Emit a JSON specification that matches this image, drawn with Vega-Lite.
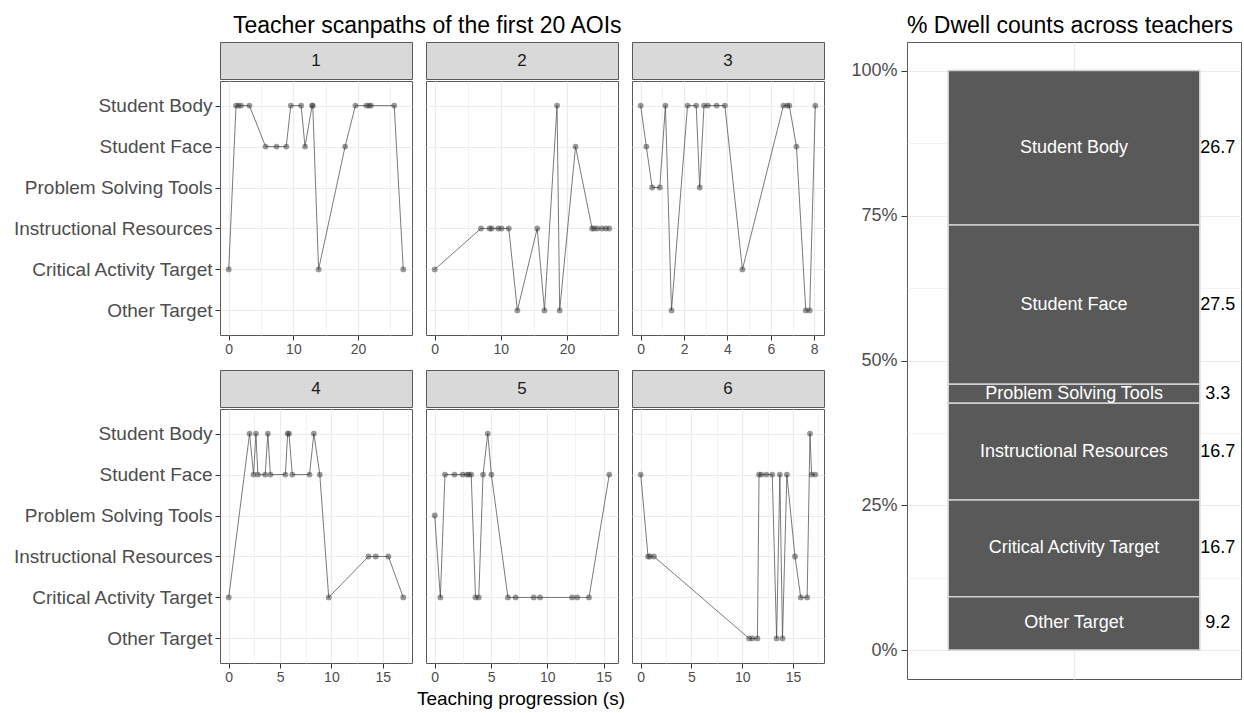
{
  "$schema": "https://vega.github.io/schema/vega-lite/v6.json",
  "padding": {"left": 12, "top": 14, "right": 0, "bottom": 0},
  "background": "white",
  "config": {
    "font": "Liberation Sans",
    "view": {"stroke": "#595959", "strokeWidth": 1},
    "title": {"fontSize": 23, "fontWeight": "normal", "color": "#000000", "font": "Liberation Sans"},
    "axis": {"labelLimit": 400}
  },
  "datasets": {
    "scan": [
      {"teacher": 1, "t": 0, "aoi": "Critical Activity Target"},
      {"teacher": 1, "t": 1.13, "aoi": "Student Body"},
      {"teacher": 1, "t": 1.5, "aoi": "Student Body"},
      {"teacher": 1, "t": 1.9, "aoi": "Student Body"},
      {"teacher": 1, "t": 3.2, "aoi": "Student Body"},
      {"teacher": 1, "t": 5.7, "aoi": "Student Face"},
      {"teacher": 1, "t": 7.4, "aoi": "Student Face"},
      {"teacher": 1, "t": 8.9, "aoi": "Student Face"},
      {"teacher": 1, "t": 9.6, "aoi": "Student Body"},
      {"teacher": 1, "t": 11.2, "aoi": "Student Body"},
      {"teacher": 1, "t": 11.8, "aoi": "Student Face"},
      {"teacher": 1, "t": 12.9, "aoi": "Student Body"},
      {"teacher": 1, "t": 13.0, "aoi": "Student Body"},
      {"teacher": 1, "t": 13.9, "aoi": "Critical Activity Target"},
      {"teacher": 1, "t": 18.0, "aoi": "Student Face"},
      {"teacher": 1, "t": 19.6, "aoi": "Student Body"},
      {"teacher": 1, "t": 21.3, "aoi": "Student Body"},
      {"teacher": 1, "t": 21.7, "aoi": "Student Body"},
      {"teacher": 1, "t": 22.0, "aoi": "Student Body"},
      {"teacher": 1, "t": 25.6, "aoi": "Student Body"},
      {"teacher": 1, "t": 27.0, "aoi": "Critical Activity Target"},
      {"teacher": 2, "t": 0, "aoi": "Critical Activity Target"},
      {"teacher": 2, "t": 7.0, "aoi": "Instructional Resources"},
      {"teacher": 2, "t": 8.3, "aoi": "Instructional Resources"},
      {"teacher": 2, "t": 8.6, "aoi": "Instructional Resources"},
      {"teacher": 2, "t": 9.6, "aoi": "Instructional Resources"},
      {"teacher": 2, "t": 10.1, "aoi": "Instructional Resources"},
      {"teacher": 2, "t": 11.2, "aoi": "Instructional Resources"},
      {"teacher": 2, "t": 12.5, "aoi": "Other Target"},
      {"teacher": 2, "t": 15.5, "aoi": "Instructional Resources"},
      {"teacher": 2, "t": 16.6, "aoi": "Other Target"},
      {"teacher": 2, "t": 18.5, "aoi": "Student Body"},
      {"teacher": 2, "t": 18.9, "aoi": "Other Target"},
      {"teacher": 2, "t": 21.3, "aoi": "Student Face"},
      {"teacher": 2, "t": 23.8, "aoi": "Instructional Resources"},
      {"teacher": 2, "t": 24.1, "aoi": "Instructional Resources"},
      {"teacher": 2, "t": 24.6, "aoi": "Instructional Resources"},
      {"teacher": 2, "t": 25.3, "aoi": "Instructional Resources"},
      {"teacher": 2, "t": 25.9, "aoi": "Instructional Resources"},
      {"teacher": 2, "t": 26.4, "aoi": "Instructional Resources"},
      {"teacher": 3, "t": 0, "aoi": "Student Body"},
      {"teacher": 3, "t": 0.26, "aoi": "Student Face"},
      {"teacher": 3, "t": 0.53, "aoi": "Problem Solving Tools"},
      {"teacher": 3, "t": 0.88, "aoi": "Problem Solving Tools"},
      {"teacher": 3, "t": 1.14, "aoi": "Student Body"},
      {"teacher": 3, "t": 1.42, "aoi": "Other Target"},
      {"teacher": 3, "t": 2.16, "aoi": "Student Body"},
      {"teacher": 3, "t": 2.56, "aoi": "Student Body"},
      {"teacher": 3, "t": 2.72, "aoi": "Problem Solving Tools"},
      {"teacher": 3, "t": 2.92, "aoi": "Student Body"},
      {"teacher": 3, "t": 3.1, "aoi": "Student Body"},
      {"teacher": 3, "t": 3.5, "aoi": "Student Body"},
      {"teacher": 3, "t": 3.88, "aoi": "Student Body"},
      {"teacher": 3, "t": 4.69, "aoi": "Critical Activity Target"},
      {"teacher": 3, "t": 6.58, "aoi": "Student Body"},
      {"teacher": 3, "t": 6.76, "aoi": "Student Body"},
      {"teacher": 3, "t": 6.85, "aoi": "Student Body"},
      {"teacher": 3, "t": 7.18, "aoi": "Student Face"},
      {"teacher": 3, "t": 7.61, "aoi": "Other Target"},
      {"teacher": 3, "t": 7.79, "aoi": "Other Target"},
      {"teacher": 3, "t": 8.05, "aoi": "Student Body"},
      {"teacher": 4, "t": 0, "aoi": "Critical Activity Target"},
      {"teacher": 4, "t": 2.03, "aoi": "Student Body"},
      {"teacher": 4, "t": 2.42, "aoi": "Student Face"},
      {"teacher": 4, "t": 2.65, "aoi": "Student Body"},
      {"teacher": 4, "t": 2.84, "aoi": "Student Face"},
      {"teacher": 4, "t": 3.55, "aoi": "Student Face"},
      {"teacher": 4, "t": 3.81, "aoi": "Student Body"},
      {"teacher": 4, "t": 4.06, "aoi": "Student Face"},
      {"teacher": 4, "t": 5.52, "aoi": "Student Face"},
      {"teacher": 4, "t": 5.74, "aoi": "Student Body"},
      {"teacher": 4, "t": 5.87, "aoi": "Student Body"},
      {"teacher": 4, "t": 6.19, "aoi": "Student Face"},
      {"teacher": 4, "t": 7.87, "aoi": "Student Face"},
      {"teacher": 4, "t": 8.29, "aoi": "Student Body"},
      {"teacher": 4, "t": 8.87, "aoi": "Student Face"},
      {"teacher": 4, "t": 9.74, "aoi": "Critical Activity Target"},
      {"teacher": 4, "t": 13.61, "aoi": "Instructional Resources"},
      {"teacher": 4, "t": 14.32, "aoi": "Instructional Resources"},
      {"teacher": 4, "t": 15.55, "aoi": "Instructional Resources"},
      {"teacher": 4, "t": 17.0, "aoi": "Critical Activity Target"},
      {"teacher": 5, "t": 0, "aoi": "Problem Solving Tools"},
      {"teacher": 5, "t": 0.5, "aoi": "Critical Activity Target"},
      {"teacher": 5, "t": 0.91, "aoi": "Student Face"},
      {"teacher": 5, "t": 1.76, "aoi": "Student Face"},
      {"teacher": 5, "t": 2.47, "aoi": "Student Face"},
      {"teacher": 5, "t": 2.85, "aoi": "Student Face"},
      {"teacher": 5, "t": 3.03, "aoi": "Student Face"},
      {"teacher": 5, "t": 3.24, "aoi": "Student Face"},
      {"teacher": 5, "t": 3.62, "aoi": "Critical Activity Target"},
      {"teacher": 5, "t": 3.91, "aoi": "Critical Activity Target"},
      {"teacher": 5, "t": 4.29, "aoi": "Student Face"},
      {"teacher": 5, "t": 4.71, "aoi": "Student Body"},
      {"teacher": 5, "t": 5.03, "aoi": "Student Face"},
      {"teacher": 5, "t": 6.5, "aoi": "Critical Activity Target"},
      {"teacher": 5, "t": 7.18, "aoi": "Critical Activity Target"},
      {"teacher": 5, "t": 8.79, "aoi": "Critical Activity Target"},
      {"teacher": 5, "t": 9.35, "aoi": "Critical Activity Target"},
      {"teacher": 5, "t": 12.2, "aoi": "Critical Activity Target"},
      {"teacher": 5, "t": 12.65, "aoi": "Critical Activity Target"},
      {"teacher": 5, "t": 13.7, "aoi": "Critical Activity Target"},
      {"teacher": 5, "t": 15.5, "aoi": "Student Face"},
      {"teacher": 6, "t": 0, "aoi": "Student Face"},
      {"teacher": 6, "t": 0.72, "aoi": "Instructional Resources"},
      {"teacher": 6, "t": 0.91, "aoi": "Instructional Resources"},
      {"teacher": 6, "t": 1.3, "aoi": "Instructional Resources"},
      {"teacher": 6, "t": 10.68, "aoi": "Other Target"},
      {"teacher": 6, "t": 11.0, "aoi": "Other Target"},
      {"teacher": 6, "t": 11.5, "aoi": "Other Target"},
      {"teacher": 6, "t": 11.66, "aoi": "Student Face"},
      {"teacher": 6, "t": 11.89, "aoi": "Student Face"},
      {"teacher": 6, "t": 12.38, "aoi": "Student Face"},
      {"teacher": 6, "t": 12.96, "aoi": "Student Face"},
      {"teacher": 6, "t": 13.39, "aoi": "Other Target"},
      {"teacher": 6, "t": 13.71, "aoi": "Student Face"},
      {"teacher": 6, "t": 13.97, "aoi": "Other Target"},
      {"teacher": 6, "t": 14.4, "aoi": "Student Face"},
      {"teacher": 6, "t": 15.2, "aoi": "Instructional Resources"},
      {"teacher": 6, "t": 15.77, "aoi": "Critical Activity Target"},
      {"teacher": 6, "t": 16.4, "aoi": "Critical Activity Target"},
      {"teacher": 6, "t": 16.68, "aoi": "Student Body"},
      {"teacher": 6, "t": 16.84, "aoi": "Student Face"},
      {"teacher": 6, "t": 17.2, "aoi": "Student Face"}
    ],
    "dwell": [
      {"group": "all", "aoi": "Student Body", "pct": 26.7, "order": 6},
      {"group": "all", "aoi": "Student Face", "pct": 27.5, "order": 5},
      {"group": "all", "aoi": "Problem Solving Tools", "pct": 3.3, "order": 4},
      {"group": "all", "aoi": "Instructional Resources", "pct": 16.7, "order": 3},
      {"group": "all", "aoi": "Critical Activity Target", "pct": 16.7, "order": 2},
      {"group": "all", "aoi": "Other Target", "pct": 9.2, "order": 1}
    ]
  },
  "hconcat": [
    {
      "title": {"text": "Teacher scanpaths of the first 20 AOIs", "anchor": "start", "dx": 220},
      "vconcat": [
        {
          "title": {"text": "Teaching progression (s)", "orient": "bottom", "anchor": "start", "dx": 404, "fontSize": 19, "offset": 5},
          "spacing": 12,
          "vconcat": [
            {
              "spacing": 12,
              "hconcat": [
                {
                  "spacing": 0,
                  "vconcat": [
                    {"width": 192, "height": 37, "view": {"fill": "#D9D9D9", "stroke": "#595959"}, "data": {"values": [{"label": "1"}]}, "mark": {"type": "text", "fontSize": 17, "color": "#1A1A1A"}, "encoding": {"text": {"field": "label"}}},
                    {
                      "width": 192, "height": 254, "view": {"stroke": "#595959"},
                      "data": {"name": "scan"}, "transform": [{"filter": "datum.teacher == 1"}],
                      "encoding": {
                        "x": {"field": "t", "type": "quantitative", "scale": {"domain": [-1.35, 28.35], "nice": false, "zero": false},
                          "axis": {"values": [0, 5, 10, 15, 20, 25], "labelExpr": "datum.value % 10 == 0 ? datum.label : ''", "title": null, "labelFontSize": 14, "labelColor": "#4D4D4D", "labelFlush": false, "labelOverlap": false, "tickSize": 5, "labelPadding": 2, "domain": false, "grid": true, "gridColor": "#EBEBEB",
                            "tickColor": {"condition": {"test": "datum.value % 10 != 0", "value": "transparent"}, "value": "#333333"},
                            "gridWidth": {"condition": {"test": "datum.value % 10 != 0", "value": 0.6}, "value": 1.2}}},
                        "y": {"field": "aoi", "type": "nominal", "scale": {"type": "point", "padding": 0.6, "domain": ["Student Body", "Student Face", "Problem Solving Tools", "Instructional Resources", "Critical Activity Target", "Other Target"]},
                          "axis": {"title": null, "labelFontSize": 19, "labelColor": "#4D4D4D", "tickColor": "#333333", "tickSize": 5, "labelPadding": 3, "domain": false, "grid": true, "gridColor": "#EBEBEB", "gridWidth": 1.2}}
                      },
                      "layer": [
                        {"mark": {"type": "line", "color": "#4D4D4D", "strokeWidth": 1, "opacity": 0.75}, "encoding": {"order": {"field": "t", "type": "quantitative"}}},
                        {"mark": {"type": "circle", "size": 34, "color": "#333333", "opacity": 0.5}}
                      ]
                    }
                  ]
                },
                {
                  "spacing": 0,
                  "vconcat": [
                    {"width": 192, "height": 37, "view": {"fill": "#D9D9D9", "stroke": "#595959"}, "data": {"values": [{"label": "2"}]}, "mark": {"type": "text", "fontSize": 17, "color": "#1A1A1A"}, "encoding": {"text": {"field": "label"}}},
                    {
                      "width": 192, "height": 254, "view": {"stroke": "#595959"},
                      "data": {"name": "scan"}, "transform": [{"filter": "datum.teacher == 2"}],
                      "encoding": {
                        "x": {"field": "t", "type": "quantitative", "scale": {"domain": [-1.32, 27.72], "nice": false, "zero": false},
                          "axis": {"values": [0, 5, 10, 15, 20, 25], "labelExpr": "datum.value % 10 == 0 ? datum.label : ''", "title": null, "labelFontSize": 14, "labelColor": "#4D4D4D", "labelFlush": false, "labelOverlap": false, "tickSize": 5, "labelPadding": 2, "domain": false, "grid": true, "gridColor": "#EBEBEB",
                            "tickColor": {"condition": {"test": "datum.value % 10 != 0", "value": "transparent"}, "value": "#333333"},
                            "gridWidth": {"condition": {"test": "datum.value % 10 != 0", "value": 0.6}, "value": 1.2}}},
                        "y": {"field": "aoi", "type": "nominal", "scale": {"type": "point", "padding": 0.6, "domain": ["Student Body", "Student Face", "Problem Solving Tools", "Instructional Resources", "Critical Activity Target", "Other Target"]},
                          "axis": {"title": null, "labels": false, "ticks": false, "domain": false, "grid": true, "gridColor": "#EBEBEB", "gridWidth": 1.2}}
                      },
                      "layer": [
                        {"mark": {"type": "line", "color": "#4D4D4D", "strokeWidth": 1, "opacity": 0.75}, "encoding": {"order": {"field": "t", "type": "quantitative"}}},
                        {"mark": {"type": "circle", "size": 34, "color": "#333333", "opacity": 0.5}}
                      ]
                    }
                  ]
                },
                {
                  "spacing": 0,
                  "vconcat": [
                    {"width": 192, "height": 37, "view": {"fill": "#D9D9D9", "stroke": "#595959"}, "data": {"values": [{"label": "3"}]}, "mark": {"type": "text", "fontSize": 17, "color": "#1A1A1A"}, "encoding": {"text": {"field": "label"}}},
                    {
                      "width": 192, "height": 254, "view": {"stroke": "#595959"},
                      "data": {"name": "scan"}, "transform": [{"filter": "datum.teacher == 3"}],
                      "encoding": {
                        "x": {"field": "t", "type": "quantitative", "scale": {"domain": [-0.4, 8.45], "nice": false, "zero": false},
                          "axis": {"values": [0, 1, 2, 3, 4, 5, 6, 7, 8], "labelExpr": "datum.value % 2 == 0 ? datum.label : ''", "title": null, "labelFontSize": 14, "labelColor": "#4D4D4D", "labelFlush": false, "labelOverlap": false, "tickSize": 5, "labelPadding": 2, "domain": false, "grid": true, "gridColor": "#EBEBEB",
                            "tickColor": {"condition": {"test": "datum.value % 2 != 0", "value": "transparent"}, "value": "#333333"},
                            "gridWidth": {"condition": {"test": "datum.value % 2 != 0", "value": 0.6}, "value": 1.2}}},
                        "y": {"field": "aoi", "type": "nominal", "scale": {"type": "point", "padding": 0.6, "domain": ["Student Body", "Student Face", "Problem Solving Tools", "Instructional Resources", "Critical Activity Target", "Other Target"]},
                          "axis": {"title": null, "labels": false, "ticks": false, "domain": false, "grid": true, "gridColor": "#EBEBEB", "gridWidth": 1.2}}
                      },
                      "layer": [
                        {"mark": {"type": "line", "color": "#4D4D4D", "strokeWidth": 1, "opacity": 0.75}, "encoding": {"order": {"field": "t", "type": "quantitative"}}},
                        {"mark": {"type": "circle", "size": 34, "color": "#333333", "opacity": 0.5}}
                      ]
                    }
                  ]
                }
              ]
            },
            {
              "spacing": 12,
              "hconcat": [
                {
                  "spacing": 0,
                  "vconcat": [
                    {"width": 192, "height": 37, "view": {"fill": "#D9D9D9", "stroke": "#595959"}, "data": {"values": [{"label": "4"}]}, "mark": {"type": "text", "fontSize": 17, "color": "#1A1A1A"}, "encoding": {"text": {"field": "label"}}},
                    {
                      "width": 192, "height": 254, "view": {"stroke": "#595959"},
                      "data": {"name": "scan"}, "transform": [{"filter": "datum.teacher == 4"}],
                      "encoding": {
                        "x": {"field": "t", "type": "quantitative", "scale": {"domain": [-0.85, 17.85], "nice": false, "zero": false},
                          "axis": {"values": [0, 2.5, 5, 7.5, 10, 12.5, 15, 17.5], "labelExpr": "datum.value % 5 == 0 ? datum.label : ''", "title": null, "labelFontSize": 14, "labelColor": "#4D4D4D", "labelFlush": false, "labelOverlap": false, "tickSize": 5, "labelPadding": 2, "domain": false, "grid": true, "gridColor": "#EBEBEB",
                            "tickColor": {"condition": {"test": "datum.value % 5 != 0", "value": "transparent"}, "value": "#333333"},
                            "gridWidth": {"condition": {"test": "datum.value % 5 != 0", "value": 0.6}, "value": 1.2}}},
                        "y": {"field": "aoi", "type": "nominal", "scale": {"type": "point", "padding": 0.6, "domain": ["Student Body", "Student Face", "Problem Solving Tools", "Instructional Resources", "Critical Activity Target", "Other Target"]},
                          "axis": {"title": null, "labelFontSize": 19, "labelColor": "#4D4D4D", "tickColor": "#333333", "tickSize": 5, "labelPadding": 3, "domain": false, "grid": true, "gridColor": "#EBEBEB", "gridWidth": 1.2}}
                      },
                      "layer": [
                        {"mark": {"type": "line", "color": "#4D4D4D", "strokeWidth": 1, "opacity": 0.75}, "encoding": {"order": {"field": "t", "type": "quantitative"}}},
                        {"mark": {"type": "circle", "size": 34, "color": "#333333", "opacity": 0.5}}
                      ]
                    }
                  ]
                },
                {
                  "spacing": 0,
                  "vconcat": [
                    {"width": 192, "height": 37, "view": {"fill": "#D9D9D9", "stroke": "#595959"}, "data": {"values": [{"label": "5"}]}, "mark": {"type": "text", "fontSize": 17, "color": "#1A1A1A"}, "encoding": {"text": {"field": "label"}}},
                    {
                      "width": 192, "height": 254, "view": {"stroke": "#595959"},
                      "data": {"name": "scan"}, "transform": [{"filter": "datum.teacher == 5"}],
                      "encoding": {
                        "x": {"field": "t", "type": "quantitative", "scale": {"domain": [-0.775, 16.275], "nice": false, "zero": false},
                          "axis": {"values": [0, 2.5, 5, 7.5, 10, 12.5, 15], "labelExpr": "datum.value % 5 == 0 ? datum.label : ''", "title": null, "labelFontSize": 14, "labelColor": "#4D4D4D", "labelFlush": false, "labelOverlap": false, "tickSize": 5, "labelPadding": 2, "domain": false, "grid": true, "gridColor": "#EBEBEB",
                            "tickColor": {"condition": {"test": "datum.value % 5 != 0", "value": "transparent"}, "value": "#333333"},
                            "gridWidth": {"condition": {"test": "datum.value % 5 != 0", "value": 0.6}, "value": 1.2}}},
                        "y": {"field": "aoi", "type": "nominal", "scale": {"type": "point", "padding": 0.6, "domain": ["Student Body", "Student Face", "Problem Solving Tools", "Instructional Resources", "Critical Activity Target", "Other Target"]},
                          "axis": {"title": null, "labels": false, "ticks": false, "domain": false, "grid": true, "gridColor": "#EBEBEB", "gridWidth": 1.2}}
                      },
                      "layer": [
                        {"mark": {"type": "line", "color": "#4D4D4D", "strokeWidth": 1, "opacity": 0.75}, "encoding": {"order": {"field": "t", "type": "quantitative"}}},
                        {"mark": {"type": "circle", "size": 34, "color": "#333333", "opacity": 0.5}}
                      ]
                    }
                  ]
                },
                {
                  "spacing": 0,
                  "vconcat": [
                    {"width": 192, "height": 37, "view": {"fill": "#D9D9D9", "stroke": "#595959"}, "data": {"values": [{"label": "6"}]}, "mark": {"type": "text", "fontSize": 17, "color": "#1A1A1A"}, "encoding": {"text": {"field": "label"}}},
                    {
                      "width": 192, "height": 254, "view": {"stroke": "#595959"},
                      "data": {"name": "scan"}, "transform": [{"filter": "datum.teacher == 6"}],
                      "encoding": {
                        "x": {"field": "t", "type": "quantitative", "scale": {"domain": [-0.86, 18.06], "nice": false, "zero": false},
                          "axis": {"values": [0, 2.5, 5, 7.5, 10, 12.5, 15, 17.5], "labelExpr": "datum.value % 5 == 0 ? datum.label : ''", "title": null, "labelFontSize": 14, "labelColor": "#4D4D4D", "labelFlush": false, "labelOverlap": false, "tickSize": 5, "labelPadding": 2, "domain": false, "grid": true, "gridColor": "#EBEBEB",
                            "tickColor": {"condition": {"test": "datum.value % 5 != 0", "value": "transparent"}, "value": "#333333"},
                            "gridWidth": {"condition": {"test": "datum.value % 5 != 0", "value": 0.6}, "value": 1.2}}},
                        "y": {"field": "aoi", "type": "nominal", "scale": {"type": "point", "padding": 0.6, "domain": ["Student Body", "Student Face", "Problem Solving Tools", "Instructional Resources", "Critical Activity Target", "Other Target"]},
                          "axis": {"title": null, "labels": false, "ticks": false, "domain": false, "grid": true, "gridColor": "#EBEBEB", "gridWidth": 1.2}}
                      },
                      "layer": [
                        {"mark": {"type": "line", "color": "#4D4D4D", "strokeWidth": 1, "opacity": 0.75}, "encoding": {"order": {"field": "t", "type": "quantitative"}}},
                        {"mark": {"type": "circle", "size": 34, "color": "#333333", "opacity": 0.5}}
                      ]
                    }
                  ]
                }
              ]
            }
          ]
        }
      ]
    },
    {
      "title": {"text": "% Dwell counts across teachers", "anchor": "start", "frame": "group"},
      "width": 334, "height": 637,
      "view": {"stroke": "#595959"},
      "data": {"name": "dwell"},
      "transform": [{"stack": "pct", "groupby": ["group"], "sort": [{"field": "order", "order": "ascending"}], "as": ["y0", "y1"]}],
      "layer": [
        {
          "mark": {"type": "bar", "color": "#595959", "stroke": "#D0D0D0", "strokeWidth": 1.5},
          "encoding": {
            "x": {"field": "group", "type": "nominal", "scale": {"paddingInner": 0, "paddingOuter": 0.164},
              "axis": {"title": null, "labels": false, "ticks": false, "domain": false, "grid": true, "gridColor": "#EBEBEB", "gridWidth": 1.2, "bandPosition": 0.5}},
            "y": {"field": "y0", "type": "quantitative", "scale": {"domain": [-5, 105], "nice": false, "zero": false},
              "axis": {"values": [0, 12.5, 25, 37.5, 50, 62.5, 75, 87.5, 100], "labelExpr": "datum.value % 25 == 0 ? datum.value + '%' : ''", "title": null, "labelFontSize": 18, "labelColor": "#4D4D4D", "tickSize": 6, "labelPadding": 4, "domain": false, "grid": true, "gridColor": "#EBEBEB",
                "tickColor": {"condition": {"test": "datum.value % 25 != 0", "value": "transparent"}, "value": "#333333"},
                "gridWidth": {"condition": {"test": "datum.value % 25 != 0", "value": 0.6}, "value": 1.2}}},
            "y2": {"field": "y1"}
          }
        },
        {
          "transform": [
            {"fold": ["y0", "y1"], "as": ["k", "v"]},
            {"aggregate": [{"op": "mean", "field": "v", "as": "mid"}], "groupby": ["group", "aoi", "pct"]}
          ],
          "layer": [
            {
              "mark": {"type": "text", "color": "white", "fontSize": 18, "baseline": "middle"},
              "encoding": {
                "x": {"field": "group", "type": "nominal"},
                "y": {"field": "mid", "type": "quantitative"},
                "text": {"field": "aoi"}
              }
            },
            {
              "mark": {"type": "text", "color": "black", "fontSize": 18, "baseline": "middle", "align": "center", "dx": 18},
              "encoding": {
                "x": {"field": "group", "type": "nominal", "bandPosition": 1},
                "y": {"field": "mid", "type": "quantitative"},
                "text": {"field": "pct", "format": ".1f"}
              }
            }
          ]
        }
      ]
    }
  ],
  "spacing": 25
}
